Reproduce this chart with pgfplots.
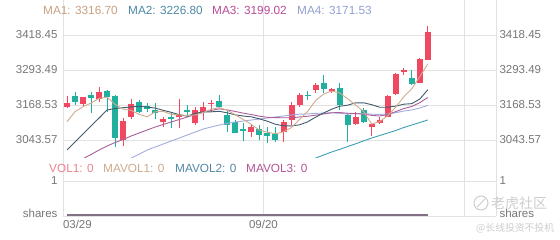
\documentclass[border=0pt]{standalone}
\usepackage{pgfplots}
\pgfplotsset{compat=1.18}
\usepackage{pgfplotstable}
\usepackage{fontspec}
\setmainfont{Liberation Sans}
\newfontfamily\cjk{Noto Sans CJK SC}
\definecolor{gridc}{RGB}{226,226,226}
\definecolor{labc}{RGB}{118,118,118}
\definecolor{upc}{RGB}{239,72,96}
\definecolor{downc}{RGB}{33,176,158}
\definecolor{maA}{RGB}{210,170,140}
\definecolor{maAt}{RGB}{200,160,130}
\definecolor{maB}{RGB}{64,92,108}
\definecolor{maBt}{RGB}{76,136,166}
\definecolor{maC}{RGB}{170,95,155}
\definecolor{maCt}{RGB}{185,75,150}
\definecolor{maD}{RGB}{165,172,222}
\definecolor{maDt}{RGB}{145,160,210}
\definecolor{maE}{RGB}{60,160,178}
\definecolor{volt}{RGB}{236,130,140}
\definecolor{mavAt}{RGB}{205,170,140}
\definecolor{mavBt}{RGB}{80,135,165}
\definecolor{mavCt}{RGB}{180,85,150}
\definecolor{volline}{RGB}{130,112,132}
\definecolor{wmc}{RGB}{205,205,205}

\pgfplotstableread{
x o h l c
1 3161.4 3200.7 3156.8 3176.8
3 3171.0 3198.3 3162.5 3196.0
5 3188.9 3233.9 3180.3 3216.0
8 3043.6 3121.0 3022.0 3111.4
9 3126.8 3188.9 3117.5 3172.1
13 3107.9 3126.8 3091.1 3117.5
15 3124.6 3188.9 3085.4 3132.9
17 3105.4 3162.5 3097.2 3150.7
18 3144.6 3180.3 3115.0 3162.5
19 3172.0 3186.4 3144.6 3175.7
24 3073.0 3099.6 3055.4 3091.1
28 3073.0 3115.0 3037.6 3108.9
29 3115.0 3180.3 3097.2 3168.5
30 3168.5 3210.3 3162.5 3204.2
32 3222.0 3246.0 3210.3 3240.0
34 3220.3 3229.3 3210.3 3223.9
37 3099.6 3144.6 3097.2 3126.8
39 3088.9 3103.2 3057.9 3100.7
40 3103.2 3126.8 3100.7 3115.0
41 3126.8 3204.2 3124.6 3200.7
42 3207.8 3283.9 3204.2 3279.2
43 3285.3 3299.5 3275.7 3293.5
45 3246.0 3335.3 3246.0 3331.7
46 3329.2 3450.6 3329.2 3430.2
}\upt

\pgfplotstableread{
x o h l c
2 3200.7 3216.0 3168.5 3179.3
4 3204.2 3216.0 3141.0 3192.5
6 3218.5 3222.0 3144.6 3198.3
7 3200.7 3204.2 3017.5 3049.7
10 3179.3 3186.4 3141.0 3144.6
11 3165.0 3176.8 3144.6 3153.2
12 3150.7 3174.6 3117.5 3141.1
14 3124.6 3144.6 3085.4 3119.6
16 3150.7 3168.5 3126.8 3144.6
20 3183.9 3204.2 3160.3 3162.5
21 3132.9 3150.7 3073.0 3097.2
22 3108.9 3115.0 3067.5 3069.7
23 3081.8 3103.2 3041.0 3075.7
25 3081.8 3097.2 3043.6 3061.5
26 3067.5 3091.1 3031.8 3057.9
27 3065.0 3091.1 3037.6 3043.6
31 3202.5 3219.6 3186.4 3200.7
33 3246.0 3275.7 3210.3 3224.6
35 3228.1 3246.0 3150.7 3168.5
36 3132.9 3138.9 3037.6 3097.2
38 3150.7 3156.8 3103.2 3108.9
44 3266.0 3293.5 3240.0 3243.5
}\downt

\pgfplotsset{
  tlab/.style={font=\fontsize{11.5}{13}\selectfont, text=labc},
  candle/.style 2 args={draw=none, mark=none, forget plot,
    error bars/.cd, y dir=plus, y explicit, error mark=none,
    error bar style={draw=#1, line width=#2}},
}

\begin{document}
\begin{tikzpicture}[x=1pt,y=1pt]
\useasboundingbox (0,0) rectangle (560,240);

% ---------- main (candles) panel ----------
\begin{axis}[
  at={(63pt,82pt)}, anchor=south west,
  width=433pt, height=158pt, scale only axis,
  xmin=0.5, xmax=54.5, ymin=2979.35, ymax=3543.4,
  axis line style={draw=none},
  xtick={0.5,25.5,50.5,54.5}, xticklabels={},
  ytick={3043.57,3168.53,3293.49,3418.45},
  yticklabels={3043.57,3168.53,3293.49,3418.45},
  xmajorgrids, ymajorgrids,
  major grid style={draw=gridc, line width=0.8pt},
  tick style={draw=none},
  yticklabel style={tlab, xshift=-2pt},
]
% wicks
\addplot[candle={upc}{1pt}]
  table[x=x, y=l, y error expr=\thisrow{h}-\thisrow{l}] {\upt};
\addplot[candle={downc}{1pt}]
  table[x=x, y=l, y error expr=\thisrow{h}-\thisrow{l}] {\downt};
% bodies
\addplot[candle={upc}{6pt}]
  table[x=x, y=o, y error expr={max(\thisrow{c}-\thisrow{o},3.6)}] {\upt};
\addplot[candle={downc}{6pt}]
  table[x=x, y=c, y error expr={max(\thisrow{o}-\thisrow{c},3.6)}] {\downt};
% MA lines
\addplot[maE, line width=0.9pt, mark=none] coordinates {
(31,2968) (32,2979) (33,2990) (34,3000.7) (35,3010) (36,3020.4) (37,3030) (38,3040.7)
(39,3050.7) (40,3059.6) (41,3068.6) (42,3077.5) (43,3088.2) (44,3097.2) (45,3106) (46,3115)};
\addplot[maD, line width=0.9pt, mark=none] coordinates {
(8,2965) (9,2979) (10,2993) (11,3007.9) (12,3018.6) (13,3029.3) (14,3040.0) (15,3050.7)
(16,3061.5) (17,3072.2) (18,3082.9) (19,3090.0) (20,3097.2) (21,3102.5) (22,3107.9)
(23,3111.4) (24,3115.0) (25,3118.6) (26,3122.0) (27,3125.7) (28,3129.3) (29,3132.9)
(30,3135.8) (31,3136.6) (32,3138.7) (33,3139.6) (34,3140.7) (35,3139.1) (36,3135.7)
(37,3138.3) (38,3138.2) (39,3135.8) (40,3134.8) (41,3136.4) (42,3141.0) (43,3146.9)
(44,3151.0) (45,3157.6) (46,3167.2)};
\addplot[maC, line width=0.9pt, mark=none] coordinates {
(2,2963) (3,2977) (4,2991.8) (5,3007.9) (6,3022.2) (7,3034.7) (8,3045.4) (9,3057.9)
(10,3068.6) (11,3079.3) (12,3090.0) (13,3099.0) (14,3107.9) (15,3116.8) (16,3125.7)
(17,3134.6) (18,3143.6) (19,3149.0) (20,3154.9) (21,3150.9) (22,3145.4) (23,3139.4)
(24,3134.3) (25,3128.6) (26,3124.6) (27,3123.3) (28,3123.1) (29,3123.0) (30,3125.9)
(31,3128.3) (32,3132.3) (33,3136.6) (34,3140.8) (35,3141.6) (36,3139.2) (37,3138.0)
(38,3135.4) (39,3131.6) (40,3129.2) (41,3134.4) (42,3144.9) (43,3155.8) (44,3163.4)
(45,3176.9) (46,3195.5)};
\addplot[maB, line width=0.9pt, mark=none] coordinates {
(1,3008.0) (2,3036.5) (3,3065.0) (4,3093.6) (5,3122.0) (6,3150.7) (7,3156.0) (8,3159.0)
(9,3161.5) (10,3163.7) (11,3161.3) (12,3157.5) (13,3149.6) (14,3142.4) (15,3134.0)
(16,3128.7) (17,3138.8) (18,3143.9) (19,3144.2) (20,3146.0) (21,3140.4) (22,3133.3)
(23,3129.1) (24,3126.3) (25,3119.1) (26,3110.5) (27,3099.7) (28,3094.4) (29,3093.7)
(30,3097.8) (31,3108.2) (32,3125.2) (33,3140.1) (34,3153.4) (35,3164.1) (36,3168.0)
(37,3176.3) (38,3176.3) (39,3169.6) (40,3160.6) (41,3160.6) (42,3164.6) (43,3171.4)
(44,3173.4) (45,3189.7) (46,3223.0)};
\addplot[maA, line width=0.9pt, mark=none] coordinates {
(1,3108.9) (2,3144.6) (3,3162.5) (4,3175.7) (5,3192.1) (6,3196.4) (7,3170.5) (8,3153.6)
(9,3149.5) (10,3135.2) (11,3126.2) (12,3144.5) (13,3145.7) (14,3135.2) (15,3132.9)
(16,3131.1) (17,3133.1) (18,3142.1) (19,3153.3) (20,3159.2) (21,3149.7) (22,3133.5)
(23,3116.2) (24,3099.2) (25,3079.0) (26,3071.2) (27,3066.0) (28,3072.6) (29,3088.1)
(30,3116.6) (31,3145.2) (32,3184.5) (33,3207.6) (34,3218.7) (35,3211.5) (36,3190.8)
(37,3168.2) (38,3145.1) (39,3100.4) (40,3109.7) (41,3130.4) (42,3160.9) (43,3197.8)
(44,3226.4) (45,3269.7) (46,3315.6)};
\end{axis}

% right-hand labels of the main panel
\begin{axis}[
  at={(63pt,82pt)}, anchor=south west,
  width=433pt, height=158pt, scale only axis,
  xmin=0.5, xmax=54.5, ymin=2979.35, ymax=3543.4,
  axis line style={draw=none}, xtick=\empty,
  ytick={3043.57,3168.53,3293.49,3418.45},
  yticklabels={3043.57,3168.53,3293.49,3418.45},
  yticklabel pos=right, tick style={draw=none},
  yticklabel style={tlab},
]
\end{axis}

% ---------- volume panel ----------
\begin{axis}[
  at={(63pt,24pt)}, anchor=south west,
  width=433pt, height=58pt, scale only axis, clip=false,
  xmin=0.5, xmax=54.5, ymin=0, ymax=1.657,
  axis line style={draw=none},
  xtick={0.5,25.5,50.5,54.5},
  xticklabels={\makebox[0pt][l]{03/29},09/20,{},{}},
  xticklabel style={tlab, yshift=-1pt},
  ytick={0,1}, yticklabels={\raisebox{5pt}{shares},1},
  xmajorgrids, ymajorgrids,
  major grid style={draw=gridc, line width=0.8pt},
  tick style={draw=none},
  yticklabel style={tlab, xshift=-2pt},
]
\addplot[volline, line width=2.6pt, mark=none] coordinates {(1,0.03) (46,0.03)};
\end{axis}
\begin{axis}[
  at={(63pt,24pt)}, anchor=south west,
  width=433pt, height=58pt, scale only axis,
  xmin=0.5, xmax=54.5, ymin=0, ymax=1.657,
  axis line style={draw=none}, xtick=\empty,
  ytick={0,1}, yticklabels={\raisebox{5pt}{shares},1},
  yticklabel pos=right, tick style={draw=none},
  yticklabel style={tlab},
]
\end{axis}

% ---------- legends ----------
\begin{scope}[every node/.style={anchor=west, inner sep=0pt, font=\fontsize{11.8}{13}\selectfont}]
\node[text=maAt] at (43,230) {MA1: 3316.70};
\node[text=maBt] at (128,230) {MA2: 3226.80};
\node[text=maCt] at (212,230) {MA3: 3199.02};
\node[text=maDt] at (297,230) {MA4: 3171.53};
\node[text=volt] at (49,71.5) {VOL1: 0};
\node[text=mavAt] at (103,71.5) {MAVOL1: 0};
\node[text=mavBt] at (175,71.5) {MAVOL2: 0};
\node[text=mavCt] at (246,71.5) {MAVOL3: 0};
\end{scope}

% ---------- watermark ----------
\draw[wmc, line width=1pt] (481,37) circle (7);
\draw[wmc, line width=1pt] (477,33) -- (485,41);
\node[anchor=west, inner sep=0pt, text=wmc, font=\cjk\fontsize{14}{16}\selectfont] at (491,37) {老虎社区};
\node[anchor=west, inner sep=0pt, text=wmc, font=\cjk\fontsize{9.8}{11}\selectfont] at (476,12) {@长线投资不投机};
\end{tikzpicture}
\end{document}
